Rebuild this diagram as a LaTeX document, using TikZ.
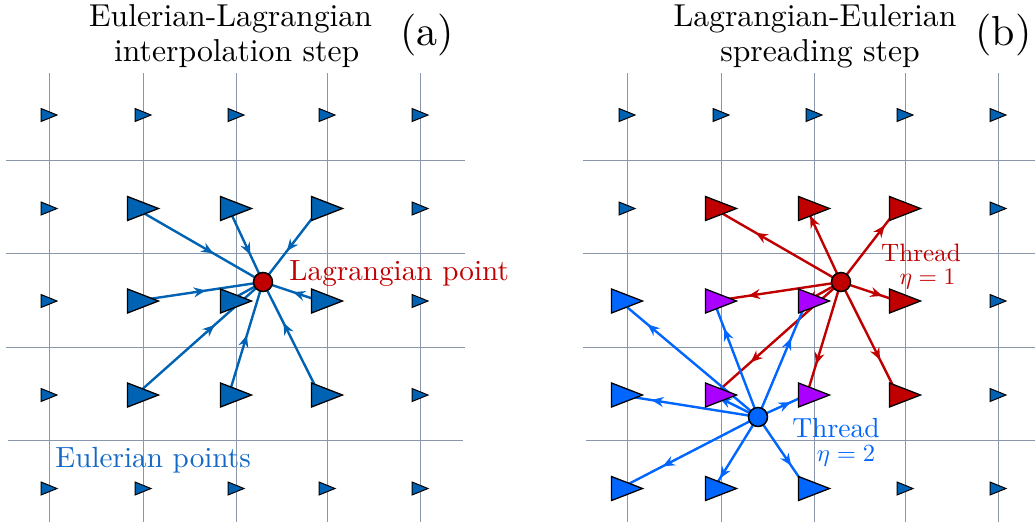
\documentclass[tikz,border=0pt]{standalone}
\usetikzlibrary{shapes.geometric,arrows.meta,decorations.markings,backgrounds}
\definecolor{eblue}{RGB}{0,98,178}
\definecolor{lred}{RGB}{192,0,0}
\definecolor{tblue}{RGB}{0,102,255}
\definecolor{mpurple}{RGB}{170,0,255}
\definecolor{gridc}{RGB}{138,150,170}
\definecolor{etext}{RGB}{20,105,200}
\tikzset{
  tri/.style={isosceles triangle, isosceles triangle stretches, shape border rotate=0,
    inner sep=0pt, outer sep=0pt, draw=black, anchor=west},
  smalltri/.style={tri, minimum height=8pt, minimum width=6.5pt, line width=0.5pt, fill=eblue, xshift=-4pt},
  bigtri/.style={tri, minimum height=15.5pt, minimum width=12pt, line width=0.65pt, xshift=-7.75pt},
  lagpt/.style={circle, draw=black, line width=0.75pt, minimum size=9.5pt, inner sep=0pt},
  gridline/.style={draw=gridc, line width=0.45pt},
  conn/.style={line width=1.2pt},
  markat/.style={postaction={decorate}, decoration={markings,
    mark=at position #1 with {\arrow{Stealth[length=6pt,width=5pt,inset=2pt]}}}},
  txt/.style={font=\fontsize{10}{12}\selectfont, inner sep=0pt, anchor=base},
  labeltxt/.style={txt, anchor=base west},
}
\begin{document}
\begin{tikzpicture}[x=0.5pt,y=-0.5pt]
\useasboundingbox (0,0) rectangle (1035,527);
% ---------------- panel (a) ----------------
\node[smalltri] (a11) at (49,115) {};
\node[smalltri] (a12) at (143,115) {};
\node[smalltri] (a13) at (236,115) {};
\node[smalltri] (a14) at (327,115) {};
\node[smalltri] (a15) at (420,115) {};
\node[smalltri] (a21) at (49,208.5) {};
\node[bigtri,fill=eblue] (a22) at (143,208.5) {};
\node[bigtri,fill=eblue] (a23) at (236,208.5) {};
\node[bigtri,fill=eblue] (a24) at (327,208.5) {};
\node[smalltri] (a25) at (420,208.5) {};
\node[smalltri] (a31) at (49,301) {};
\node[bigtri,fill=eblue] (a32) at (143,301) {};
\node[bigtri,fill=eblue] (a33) at (236,301) {};
\node[bigtri,fill=eblue] (a34) at (327,301) {};
\node[smalltri] (a35) at (420,301) {};
\node[smalltri] (a41) at (49,395) {};
\node[bigtri,fill=eblue] (a42) at (143,395) {};
\node[bigtri,fill=eblue] (a43) at (236,395) {};
\node[bigtri,fill=eblue] (a44) at (327,395) {};
\node[smalltri] (a45) at (420,395) {};
\node[smalltri] (a51) at (49,488.5) {};
\node[smalltri] (a52) at (143,488.5) {};
\node[smalltri] (a53) at (236,488.5) {};
\node[smalltri] (a54) at (327,488.5) {};
\node[smalltri] (a55) at (420,488.5) {};
\node[lagpt, fill=lred] (la) at (263,282) {};
% ---------------- panel (b) ----------------
\node[smalltri] (b11) at (627,115) {};
\node[smalltri] (b12) at (721,115) {};
\node[smalltri] (b13) at (814,115) {};
\node[smalltri] (b14) at (905,115) {};
\node[smalltri] (b15) at (998,115) {};
\node[smalltri] (b21) at (627,208.5) {};
\node[bigtri,fill=lred] (b22) at (721,208.5) {};
\node[bigtri,fill=lred] (b23) at (814,208.5) {};
\node[bigtri,fill=lred] (b24) at (905,208.5) {};
\node[smalltri] (b25) at (998,208.5) {};
\node[bigtri,fill=tblue] (b31) at (627,301) {};
\node[bigtri,fill=mpurple] (b32) at (721,301) {};
\node[bigtri,fill=mpurple] (b33) at (814,301) {};
\node[bigtri,fill=lred] (b34) at (905,301) {};
\node[smalltri] (b35) at (998,301) {};
\node[bigtri,fill=tblue] (b41) at (627,395) {};
\node[bigtri,fill=mpurple] (b42) at (721,395) {};
\node[bigtri,fill=mpurple] (b43) at (814,395) {};
\node[bigtri,fill=lred] (b44) at (905,395) {};
\node[smalltri] (b45) at (998,395) {};
\node[bigtri,fill=tblue] (b51) at (627,488.5) {};
\node[bigtri,fill=tblue] (b52) at (721,488.5) {};
\node[bigtri,fill=tblue] (b53) at (814,488.5) {};
\node[smalltri] (b54) at (905,488.5) {};
\node[smalltri] (b55) at (998,488.5) {};
\node[lagpt, fill=lred] (lr) at (841,282) {};
\node[lagpt, fill=tblue] (lb) at (758,417) {};
% ---------------- texts ----------------
\node[txt] (ta1) at (230.5,26) {\scalebox{1.585}{Eulerian-Lagrangian}};
\node[txt] (ta2) at (236.7,61) {\scalebox{1.585}{interpolation step}};
\node[txt] (tb1) at (815,26) {\scalebox{1.585}{Lagrangian-Eulerian}};
\node[txt] (tb2) at (820,61) {\scalebox{1.585}{spreading step}};
\node[txt] (pa) at (427,45) {\scalebox{2.1}{(a)}};
\node[txt] (pb) at (1003.5,45) {\scalebox{2.1}{(b)}};
\node[labeltxt, text=lred] (llag) at (289,280) {\scalebox{1.46}{Lagrangian point}};
\node[labeltxt, text=etext] (leul) at (55,467) {\scalebox{1.46}{Eulerian points}};
\node[txt, text=lred] (thr1) at (921,261) {\scalebox{1.26}{Thread}};
\node[txt, text=lred] (eta1) at (927.5,284) {\scalebox{1.18}{$\eta=1$}};
\node[txt, text=tblue] (thr2) at (836,437) {\scalebox{1.38}{Thread}};
\node[txt, text=tblue] (eta2) at (846,461) {\scalebox{1.23}{$\eta=2$}};
% ---------------- background: grid and connectors ----------------
\begin{pgfonlayer}{background}
  % grid (a)
  \foreach \x in {49,143,236,327,420} \draw[gridline] (\x,73) -- (\x,522);
  \foreach \y in {160,253,347} \draw[gridline] (6,\y) -- (465,\y);
  \draw[gridline] (8,440) -- (463,440);
  % grid (b)
  \foreach \x in {627,721,814,905,998} \draw[gridline] (\x,73) -- (\x,522);
  \foreach \y in {160,253,347} \draw[gridline] (583,\y) -- (1035,\y);
  \draw[gridline] (586,440) -- (1035,440);
  % connectors (a): Eulerian -> Lagrangian
  \begin{scope}[conn, color=eblue]
    \draw[markat=0.61] (a22.center) -- (la.center);
    \draw[markat=0.63] (a23.center) -- (la.center);
    \draw[markat=0.58] (a24.center) -- (la.center);
    \draw[markat=0.55] (a32.center) -- (la.center);
    \draw[markat=0.15] (a33.center) -- (la.center);
    \draw[markat=0.47] (a34.center) -- (la.center);
    \draw[markat=0.62] (a42.center) -- (la.center);
    \draw[markat=0.53] (a43.center) -- (la.center);
    \draw[markat=0.64] (a44.center) -- (la.center);
  \end{scope}
  % connectors (b): thread 1 spreading
  \begin{scope}[conn, color=lred]
    \draw[markat=0.67] (lr.center) -- (b22.center);
    \draw[markat=0.90] (lr.center) -- (b23.center);
    \draw[markat=0.77] (lr.center) -- (b24.center);
    \draw[markat=0.73] (lr.center) -- (b32.center);
    \draw[markat=1.0] (lr.center) -- (b33.center);
    \draw[markat=0.73] (lr.center) -- (b34.center);
    \draw[markat=0.71] (lr.center) -- (b42.center);
    \draw[markat=0.73] (lr.center) -- (b43.center);
    \draw[markat=0.69] (lr.center) -- (b44.center);
  \end{scope}
  % connectors (b): thread 2 spreading
  \begin{scope}[conn, color=tblue]
    \draw[markat=0.80] (lb.center) -- (b31.center);
    \draw[markat=0.76] (lb.center) -- (b32.center);
    \draw[markat=0.68] (lb.center) -- (b33.center);
    \draw[markat=0.77] (lb.center) -- (b41.center);
    \draw[markat=0.87] (lb.center) -- (b42.center);
    \draw[markat=0.67] (lb.center) -- (b43.center);
    \draw[markat=0.69] (lb.center) -- (b51.center);
    \draw[markat=0.86] (lb.center) -- (b52.center);
    \draw[markat=0.68] (lb.center) -- (b53.center);
  \end{scope}
\end{pgfonlayer}
\end{tikzpicture}
\end{document}
